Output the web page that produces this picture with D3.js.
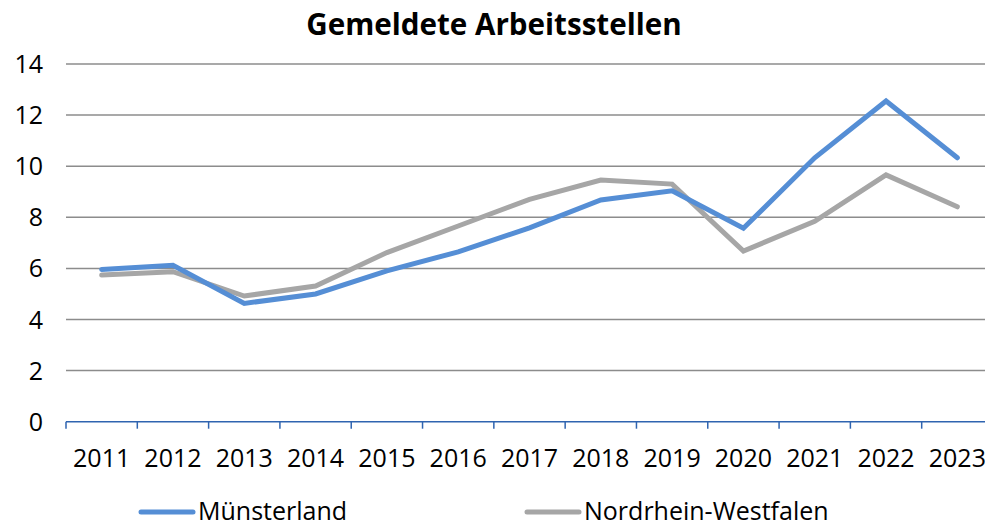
<!DOCTYPE html>
<html>
<head>
<meta charset="utf-8">
<script src="https://cdn.jsdelivr.net/npm/d3@7"></script>
<style>
  body { margin: 0; background: #fff; overflow: hidden; }
  svg { display: block; font-family: "Open Sans", "Noto Sans", sans-serif; }
</style>
</head>
<body>
<svg width="985" height="523"></svg>
<script>
var years = ["2011", "2012", "2013", "2014", "2015", "2016", "2017", "2018", "2019", "2020", "2021", "2022", "2023"];
var muensterland = [5.96, 6.12, 4.63, 5.0, 5.9, 6.65, 7.59, 8.68, 9.04, 7.57, 10.33, 12.55, 10.33];
var nrw = [5.74, 5.87, 4.92, 5.31, 6.62, 7.66, 8.7, 9.46, 9.3, 6.68, 7.84, 9.66, 8.41];
var yTicks = [0, 2, 4, 6, 8, 10, 12, 14];
var seriesNames = ["Münsterland", "Nordrhein-Westfalen"];

var svg = d3.select("svg");

var plotLeft = 66, plotRight = 993, plotTop = 64, plotBottom = 421.7;

var xScale = d3.scaleBand().domain(years).range([plotLeft, plotRight]),
    yScale = d3.scaleLinear().domain([0, 14]).range([plotBottom, plotTop]);

svg.append("text")
   .attr("x", 494)
   .attr("y", 35)
   .attr("text-anchor", "middle")
   .attr("font-size", "29.6px")
   .attr("font-weight", "bold")
   .text("Gemeldete Arbeitsstellen")
   .style("fill", "#000");

// gridlines
svg.append("g")
   .selectAll("line")
   .data(yTicks.filter(function(d) { return d > 0; }))
   .enter().append("line")
   .attr("x1", plotLeft)
   .attr("x2", plotRight)
   .attr("y1", function(d) { return yScale(d); })
   .attr("y2", function(d) { return yScale(d); })
   .attr("stroke", "#8c8c8c")
   .attr("stroke-width", 1.5);

// y labels
svg.append("g")
   .selectAll("text")
   .data(yTicks)
   .enter().append("text")
   .attr("x", 43)
   .attr("y", function(d) { return yScale(d) + 9; })
   .attr("text-anchor", "end")
   .attr("font-size", "25px")
   .text(function(d) { return d; })
   .style("fill", "#000");

// x axis labels
var xAxis = svg.append("g")
   .attr("transform", "translate(0," + plotBottom + ")")
   .call(d3.axisBottom(xScale).tickSize(0).tickPadding(0));
xAxis.select(".domain").remove();
xAxis.selectAll("text")
   .attr("font-size", "25px")
   .attr("font-family", "Open Sans, Noto Sans, sans-serif")
   .attr("y", 45)
   .attr("dy", 0)
   .style("fill", "#000");

svg.append("line")
   .attr("x1", plotLeft).attr("x2", plotRight)
   .attr("y1", plotBottom).attr("y2", plotBottom)
   .attr("stroke", "#2f64b0")
   .attr("stroke-width", 1.5);

var edges = years.map(function(d) { return xScale(d); });
svg.append("g")
   .selectAll("line")
   .data(edges)
   .enter().append("line")
   .attr("x1", function(d) { return d; })
   .attr("x2", function(d) { return d; })
   .attr("y1", plotBottom)
   .attr("y2", plotBottom + 7)
   .attr("stroke", "#2f64b0")
   .attr("stroke-width", 1.5);

var line = d3.line()
   .x(function(d, i) { return xScale(years[i]) + xScale.bandwidth() / 2; })
   .y(function(d) { return yScale(d); });

svg.append("path")
   .datum(nrw)
   .attr("d", line)
   .attr("fill", "none")
   .attr("stroke", "#a6a6a6")
   .attr("stroke-width", 5)
   .attr("stroke-linecap", "round");

svg.append("path")
   .datum(muensterland)
   .attr("d", line)
   .attr("fill", "none")
   .attr("stroke", "#558ed5")
   .attr("stroke-width", 5)
   .attr("stroke-linecap", "round");

// legend
var legendColors = ["#558ed5", "#a6a6a6"],
    legendX = [141, 527];
var legend = svg.append("g")
   .selectAll("g")
   .data(seriesNames)
   .enter().append("g")
   .attr("transform", function(d, i) { return "translate(" + legendX[i] + ",512)"; });

legend.append("line")
   .attr("x1", 0).attr("x2", 52)
   .attr("stroke", function(d, i) { return legendColors[i]; })
   .attr("stroke-width", 5)
   .attr("stroke-linecap", "round");

legend.append("text")
   .attr("x", 57)
   .attr("y", 8)
   .attr("font-size", "25px")
   .text(function(d) { return d; })
   .style("fill", "#000");
</script>
</body>
</html>
